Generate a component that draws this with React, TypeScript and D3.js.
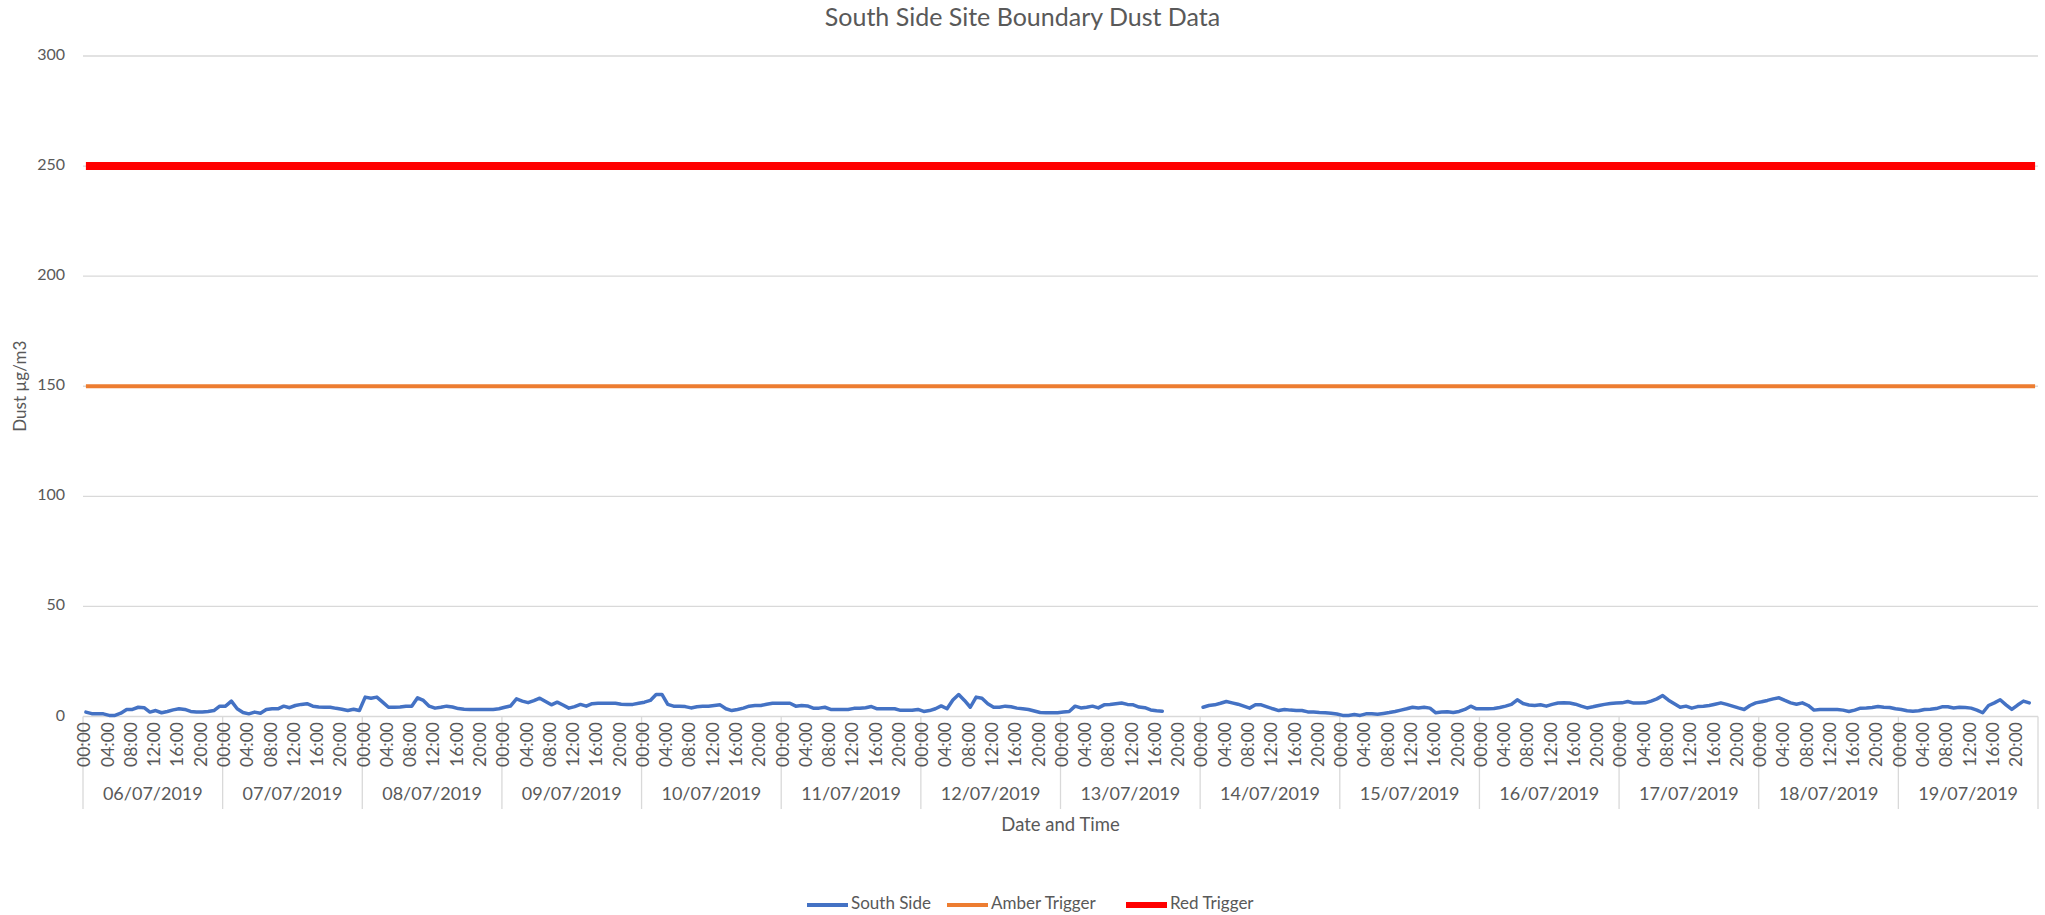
import React, { useEffect, useRef } from 'react';
import * as d3 from 'd3';

// category labels
const dates = [
  '06/07/2019', '07/07/2019', '08/07/2019', '09/07/2019', '10/07/2019', '11/07/2019', '12/07/2019',
  '13/07/2019', '14/07/2019', '15/07/2019', '16/07/2019', '17/07/2019', '18/07/2019', '19/07/2019',
];
const hours = [
  '00:00', '01:00', '02:00', '03:00', '04:00', '05:00', '06:00', '07:00', '08:00', '09:00', '10:00', '11:00',
  '12:00', '13:00', '14:00', '15:00', '16:00', '17:00', '18:00', '19:00', '20:00', '21:00', '22:00', '23:00',
];
const shownHours = ['00:00', '04:00', '08:00', '12:00', '16:00', '20:00'];
const yTicks = [0, 50, 100, 150, 200, 250, 300];

// hourly readings, one row per day (null = no reading)
const southSide: (number | null)[][] = [
  [2.0, 1.3, 1.2, 1.2, 0.5, 0.5, 1.5, 3.2, 3.2, 4.2, 4.0, 2.0, 2.7, 1.7, 2.3, 3.0, 3.5, 3.2, 2.3, 2.0, 2.0, 2.3, 2.7, 4.7],
  [4.7, 7.0, 3.5, 1.8, 1.2, 2.0, 1.5, 3.2, 3.5, 3.5, 4.7, 4.0, 5.0, 5.5, 5.8, 4.7, 4.3, 4.2, 4.2, 3.7, 3.3, 2.7, 3.3, 2.7],
  [8.8, 8.3, 8.8, 6.5, 4.2, 4.2, 4.3, 4.7, 4.7, 8.5, 7.3, 4.7, 3.8, 4.2, 4.7, 4.3, 3.6, 3.3, 3.2, 3.2, 3.2, 3.2, 3.2, 3.5],
  [4.2, 4.8, 8.0, 7.0, 6.3, 7.2, 8.3, 6.8, 5.3, 6.5, 5.2, 3.8, 4.5, 5.5, 4.7, 5.8, 6.0, 6.0, 6.0, 6.0, 5.6, 5.5, 5.5, 6.0],
  [6.5, 7.3, 10.0, 10.0, 5.5, 4.7, 4.7, 4.5, 3.9, 4.4, 4.7, 4.7, 5.0, 5.3, 3.5, 2.7, 3.2, 3.8, 4.7, 5.0, 5.0, 5.6, 6.0, 6.0],
  [6.0, 6.0, 4.7, 5.0, 4.8, 3.8, 3.8, 4.2, 3.2, 3.2, 3.2, 3.2, 3.7, 3.7, 4.0, 4.5, 3.5, 3.5, 3.5, 3.5, 2.8, 2.8, 2.8, 3.2],
  [2.3, 2.7, 3.5, 4.8, 3.5, 7.5, 10.0, 7.3, 4.2, 8.8, 8.3, 5.8, 4.2, 4.2, 4.7, 4.4, 3.8, 3.5, 3.2, 2.5, 1.8, 1.7, 1.7, 1.7],
  [2.0, 2.3, 4.7, 3.9, 4.2, 4.7, 3.9, 5.3, 5.5, 5.8, 6.1, 5.5, 5.3, 4.3, 4.0, 3.0, 2.6, 2.4, null, null, null, null, null, null],
  [4.2, 5.0, 5.3, 6.0, 6.8, 6.2, 5.6, 4.7, 3.8, 5.3, 5.3, 4.4, 3.5, 2.7, 3.2, 2.9, 2.7, 2.7, 2.1, 2.0, 1.8, 1.7, 1.5, 1.1],
  [0.5, 0.5, 0.9, 0.5, 1.2, 1.2, 1.0, 1.4, 1.8, 2.3, 2.9, 3.5, 4.2, 3.9, 4.2, 3.8, 1.7, 2.0, 2.2, 1.8, 2.3, 3.2, 4.7, 3.5],
  [3.5, 3.5, 3.6, 4.1, 4.7, 5.5, 7.6, 5.9, 5.2, 5.0, 5.3, 4.7, 5.5, 6.1, 6.2, 6.1, 5.6, 4.7, 3.9, 4.4, 5.0, 5.5, 5.9, 6.1],
  [6.2, 6.8, 6.1, 6.1, 6.2, 7.0, 8.0, 9.5, 7.4, 5.8, 4.2, 4.7, 3.8, 4.5, 4.7, 5.0, 5.6, 6.2, 5.5, 4.7, 3.9, 3.2, 5.0, 6.2],
  [6.7, 7.3, 8.0, 8.5, 7.3, 6.2, 5.6, 6.2, 5.0, 2.9, 3.2, 3.2, 3.2, 3.2, 2.9, 2.3, 2.9, 3.8, 3.9, 4.1, 4.5, 4.2, 4.1, 3.5],
  [3.2, 2.6, 2.4, 2.6, 3.2, 3.3, 3.6, 4.4, 4.4, 3.9, 4.2, 4.1, 3.8, 2.9, 1.7, 5.0, 6.2, 7.6, 5.3, 3.2, 5.2, 7.0, 6.2, null],
];
const amberTrigger = 150;
const redTrigger = 250;

const series = [
  { name: 'South Side', color: '#4472C4', width: 3.5 },
  { name: 'Amber Trigger', color: '#ED7D31', width: 4 },
  { name: 'Red Trigger', color: '#FF0000', width: 8 },
];

const W = 2045;
const H = 915;
const FONT = 'Lato, "Open Sans", sans-serif';
const TEXT = '#595959';
const GRID = '#d9d9d9';

const App = () => {
  const ref = useRef<SVGSVGElement>(null);

  useEffect(() => {
    const svg = d3.select(ref.current);
    svg.selectAll('*').remove();

    const left = 83, right = 2038, top = 56, bottom = 716.5;

    const cats: string[] = [];
    dates.forEach(d => hours.forEach(h => cats.push(d + ' ' + h)));
    const values = southSide.flat();

    const x = d3.scaleBand().domain(cats).range([left, right]).padding(0);
    const bw = x.bandwidth();
    const cx = (i: number) => (x(cats[i]) as number) + bw / 2;
    const y = d3.scaleLinear().domain([0, 300]).range([bottom, top]);

    // title
    svg.append('text')
      .attr('x', W / 2).attr('y', 20)
      .attr('text-anchor', 'middle').attr('dominant-baseline', 'middle')
      .style('font-size', '25px').style('fill', TEXT)
      .text('South Side Site Boundary Dust Data');

    // gridlines + y labels
    svg.append('g').selectAll('line').data(yTicks).enter().append('line')
      .attr('x1', left).attr('x2', right)
      .attr('y1', d => y(d)).attr('y2', d => y(d))
      .style('stroke', GRID).style('stroke-width', 1.3);

    svg.append('g').selectAll('text').data(yTicks).enter().append('text')
      .attr('x', 65).attr('y', d => y(d))
      .attr('text-anchor', 'end').attr('dominant-baseline', 'middle')
      .style('font-size', '16px').style('fill', TEXT)
      .text(d => d);

    svg.append('text')
      .attr('transform', `translate(22,${(top + bottom) / 2}) rotate(-90)`)
      .attr('text-anchor', 'middle').attr('dominant-baseline', 'middle')
      .style('font-size', '17px').style('fill', TEXT)
      .text('Dust µg/m3');

    // category axis: day separators, hour labels, day labels
    const dayW = bw * hours.length;
    svg.append('g').selectAll('line').data(d3.range(dates.length + 1)).enter().append('line')
      .attr('x1', d => left + d * dayW).attr('x2', d => left + d * dayW)
      .attr('y1', bottom).attr('y2', 809)
      .style('stroke', GRID).style('stroke-width', 1.3);

    const hourIdx: number[] = [];
    cats.forEach((c, i) => { if (shownHours.includes(hours[i % hours.length])) hourIdx.push(i); });
    svg.append('g').selectAll('text').data(hourIdx).enter().append('text')
      .attr('transform', i => `translate(${cx(i)},722) rotate(-90)`)
      .attr('text-anchor', 'end').attr('dominant-baseline', 'middle')
      .style('font-size', '17.5px').style('fill', TEXT)
      .text(i => hours[i % hours.length]);

    svg.append('g').selectAll('text').data(dates).enter().append('text')
      .attr('x', (d, i) => left + (i + 0.5) * dayW).attr('y', 795)
      .attr('text-anchor', 'middle').attr('dominant-baseline', 'middle')
      .style('font-size', '18px').style('fill', TEXT)
      .text(d => d);

    svg.append('text')
      .attr('x', (left + right) / 2).attr('y', 826)
      .attr('text-anchor', 'middle').attr('dominant-baseline', 'middle')
      .style('font-size', '18.5px').style('fill', TEXT)
      .text('Date and Time');

    // series
    const line = d3.line<number | null>()
      .defined(d => d != null)
      .x((d, i) => cx(i))
      .y(d => y(d as number));

    svg.append('path').datum(values)
      .attr('d', line)
      .style('fill', 'none').style('stroke', series[0].color).style('stroke-width', series[0].width)
      .style('stroke-linejoin', 'round').style('stroke-linecap', 'round');

    [amberTrigger, redTrigger].forEach((v, k) => {
      svg.append('path').datum(cats.map(() => v))
        .attr('d', line)
        .style('fill', 'none').style('stroke', series[k + 1].color).style('stroke-width', series[k + 1].width);
    });

    // legend
    const legendX = [807, 947, 1126];
    const lg = svg.append('g').selectAll('g').data(series).enter().append('g')
      .attr('transform', (d, i) => `translate(${legendX[i]},905)`);
    lg.append('line')
      .attr('x1', 0).attr('x2', 41).attr('y1', 0).attr('y2', 0)
      .style('stroke', d => d.color).style('stroke-width', d => (d.width > 5 ? 6 : 4));
    lg.append('text')
      .attr('x', 44).attr('y', 0).attr('dominant-baseline', 'middle')
      .style('font-size', '17px').style('fill', TEXT)
      .text(d => d.name);
  }, []);

  return (
    <div style={{ position: 'absolute', left: 0, top: 0, background: '#fff' }}>
      <svg ref={ref} width={W} height={H} style={{ display: 'block', fontFamily: FONT }} />
    </div>
  );
};

export default App;
